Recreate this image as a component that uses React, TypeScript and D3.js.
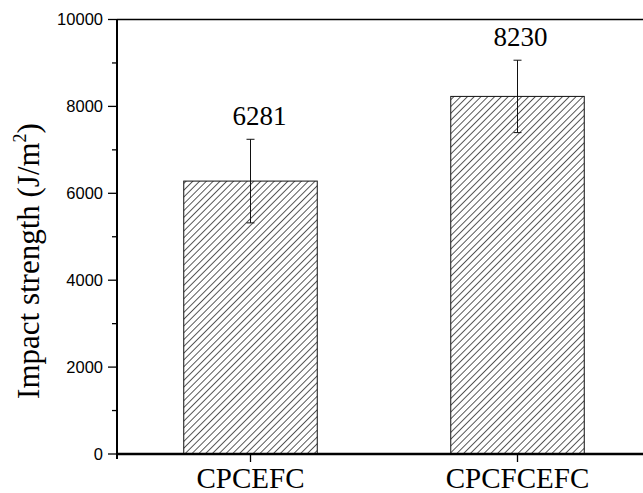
import React from "react";
import * as d3 from "d3";

const categories = ["CPCEFC", "CPCFCEFC"];
const values = [6281, 8230];
const errors = [962, 833];
const valueLabels = ["6281", "8230"];
const yTicks = [0, 2000, 4000, 6000, 8000, 10000];
const yMinorTicks = [1000, 3000, 5000, 7000, 9000];

const W = 643;
const H = 493;

export default function App() {
  const y = d3.scaleLinear().domain([0, 10000]).range([454, 19.5]);
  const x = d3
    .scaleBand<string>()
    .domain(categories)
    .range([117, 651])
    .paddingInner(0.5)
    .paddingOuter(0.25);
  const bw = x.bandwidth();
  const x0 = 117;
  const y0 = y(0);
  const labelDx = [9, 3];

  return (
    <svg
      width={W}
      height={H}
      style={{ position: "absolute", left: 0, top: 0, background: "#fff" }}
    >
      <defs>
        <pattern
          id="hatch"
          patternUnits="userSpaceOnUse"
          width={4.8}
          height={10}
          patternTransform="rotate(45)"
        >
          <line x1={0} y1={0} x2={0} y2={10} stroke="#000" strokeWidth={1.3} />
        </pattern>
      </defs>

      {/* bars */}
      {categories.map((c, i) => (
        <rect
          key={c}
          x={x(c)!}
          y={y(values[i])}
          width={bw}
          height={y0 - y(values[i])}
          fill="url(#hatch)"
          stroke="#111"
          strokeWidth={1}
        />
      ))}

      {/* error bars */}
      {categories.map((c, i) => {
        const cx = x(c)! + bw / 2;
        const top = y(values[i] + errors[i]);
        const bot = y(values[i] - errors[i]);
        return (
          <g key={"e" + c} stroke="#111" strokeWidth={1}>
            <line x1={cx} x2={cx} y1={top} y2={bot} />
            <line x1={cx - 4} x2={cx + 4} y1={top} y2={top} />
            <line x1={cx - 4} x2={cx + 4} y1={bot} y2={bot} />
          </g>
        );
      })}

      {/* value labels */}
      {categories.map((c, i) => (
        <text
          key={"v" + c}
          x={x(c)! + bw / 2 + labelDx[i]}
          y={y(values[i] + errors[i]) - 14}
          textAnchor="middle"
          fontFamily="'Liberation Serif', 'Times New Roman', serif"
          fontSize={27}
          fill="#000"
        >
          {valueLabels[i]}
        </text>
      ))}

      {/* top frame */}
      <line x1={x0} x2={W} y1={y(10000)} y2={y(10000)} stroke="#000" strokeWidth={1.3} />

      {/* y axis */}
      <line x1={x0} x2={x0} y1={y(10000)} y2={y0 + 5} stroke="#000" strokeWidth={2} />
      {yTicks.map((t) => (
        <g key={"t" + t}>
          <line x1={x0 - 9} x2={x0} y1={y(t)} y2={y(t)} stroke="#000" strokeWidth={1.3} />
          <text
            x={x0 - 14}
            y={y(t)}
            dy="0.36em"
            textAnchor="end"
            fontFamily="'Liberation Sans', Arial, sans-serif"
            fontSize={16.5}
            fill="#000"
          >
            {t}
          </text>
        </g>
      ))}
      {yMinorTicks.map((t) => (
        <line key={"m" + t} x1={x0 - 5} x2={x0} y1={y(t)} y2={y(t)} stroke="#000" strokeWidth={1.3} />
      ))}

      {/* x axis */}
      <line x1={x0} x2={W} y1={y0} y2={y0} stroke="#000" strokeWidth={2.6} />
      {categories.map((c) => (
        <g key={"x" + c}>
          <line
            x1={x(c)! + bw / 2}
            x2={x(c)! + bw / 2}
            y1={y0}
            y2={y0 + 8}
            stroke="#000"
            strokeWidth={1.3}
          />
          <text
            x={x(c)! + bw / 2}
            y={y0 + 34}
            textAnchor="middle"
            fontFamily="'Liberation Serif', 'Times New Roman', serif"
            fontSize={29}
            fill="#000"
          >
            {c}
          </text>
        </g>
      ))}

      {/* y label */}
      <text
        transform={`translate(39, 261) rotate(-90)`}
        textAnchor="middle"
        fontFamily="'Liberation Serif', 'Times New Roman', serif"
        fontSize={31}
        fill="#000"
      >
        Impact strength (J/m
        <tspan fontSize={18} dy={-13}>2</tspan>
        <tspan dy={13}>)</tspan>
      </text>
    </svg>
  );
}
